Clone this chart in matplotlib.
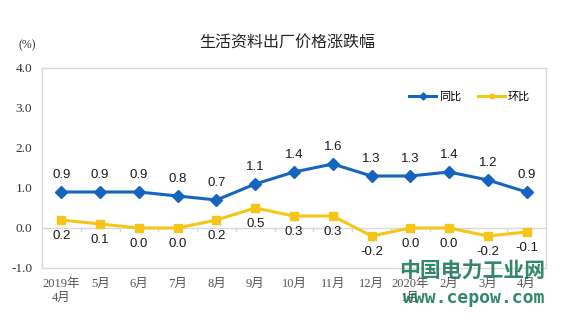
import matplotlib
matplotlib.use("Agg")
import matplotlib.pyplot as plt
import numpy as np

categories = ["2019年\n4月", "5月", "6月", "7月", "8月", "9月", "10月", "11月", "12月",
              "2020年\n1月", "2月", "3月", "4月"]
yoy = [0.9, 0.9, 0.9, 0.8, 0.7, 1.1, 1.4, 1.6, 1.3, 1.3, 1.4, 1.2, 0.9]
mom = [0.2, 0.1, 0.0, 0.0, 0.2, 0.5, 0.3, 0.3, -0.2, 0.0, 0.0, -0.2, -0.1]
yticks = [-1.0, 0.0, 1.0, 2.0, 3.0, 4.0]

blue = "#1565c0"
yellow = "#f5c518"
gray = "#d9d9d9"

fig = plt.figure(figsize=(5.71, 3.26), dpi=100)
ax = fig.add_axes([42/571, 58/326, 504/571, 200/326])
x = np.arange(len(categories))
ax.set_xlim(-0.5, len(categories) - 0.5)
ax.set_ylim(-1.0, 4.0)

for s in ax.spines.values():
    s.set_color(gray)
    s.set_linewidth(1.0)
ax.axhline(0, color=gray, lw=1.0, zorder=1)
for b in np.arange(0.5, len(categories) - 0.5, 1):
    ax.plot([b, b], [0, -0.07], color=gray, lw=1.0, zorder=1)

ax.plot(x, yoy, color=blue, lw=2.2, marker="D", ms=6, zorder=3, label="同比")
ax.plot(x, mom, color=yellow, lw=2.2, marker="s", ms=5.5, zorder=3, label="环比")

lab_font = dict(family=["Liberation Sans", "DejaVu Sans"], fontsize=9.5, color="#1a1a1a")
for xi, v in zip(x, yoy):
    ax.annotate(f"{v:.1f}", (xi, v), xytext=(0, 8), textcoords="offset points",
                ha="center", va="bottom", **lab_font)
for xi, v in zip(x, mom):
    ax.annotate(f"{v:.1f}", (xi, v), xytext=(0, -7), textcoords="offset points",
                ha="center", va="top", **lab_font)

tick_font = ["Liberation Serif", "Noto Sans CJK SC"]
ax.set_yticks(yticks)
ax.set_yticklabels([f"{t:.1f}" for t in yticks], family=tick_font, fontsize=9.5, color="#333333")
ax.set_xticks(x)
ax.set_xticklabels(categories, family=tick_font, fontsize=9, color="#555555", linespacing=1.2)
ax.tick_params(axis="both", length=0, pad=7)
ax.tick_params(axis="x", pad=7)

fig.text(287/571, 1 - 42/326, "生活资料出厂价格涨跌幅", ha="center", va="center",
         family=["Noto Sans CJK SC"], fontsize=11.5, color="#222222")
fig.text(27/571, 1 - 45/326, "(%)", ha="center", va="center",
         family=tick_font, fontsize=8.5, color="#333333")

leg = ax.legend(loc="center right", bbox_to_anchor=(0.968, 0.855), ncol=2, frameon=False,
                prop={"family": "Noto Sans CJK SC", "size": 8}, handlelength=2.5,
                columnspacing=1.5, handletextpad=0.2, markerscale=0.6, borderpad=0,
                borderaxespad=0)

fig.text(472/571, 1 - 271/326, "中国电力工业网", ha="center", va="center",
         family=["Noto Sans CJK SC"], fontsize=15, fontweight="bold", color="#1b7a5c", alpha=0.9)
fig.text(474/571, 1 - 298/326, "www.cepow.com", ha="center", va="center",
         family=["DejaVu Sans Mono", "DejaVu Sans"], fontsize=13, fontweight="bold", color="#1b7a5c", alpha=0.9)

fig.savefig("out.png", dpi=100)
